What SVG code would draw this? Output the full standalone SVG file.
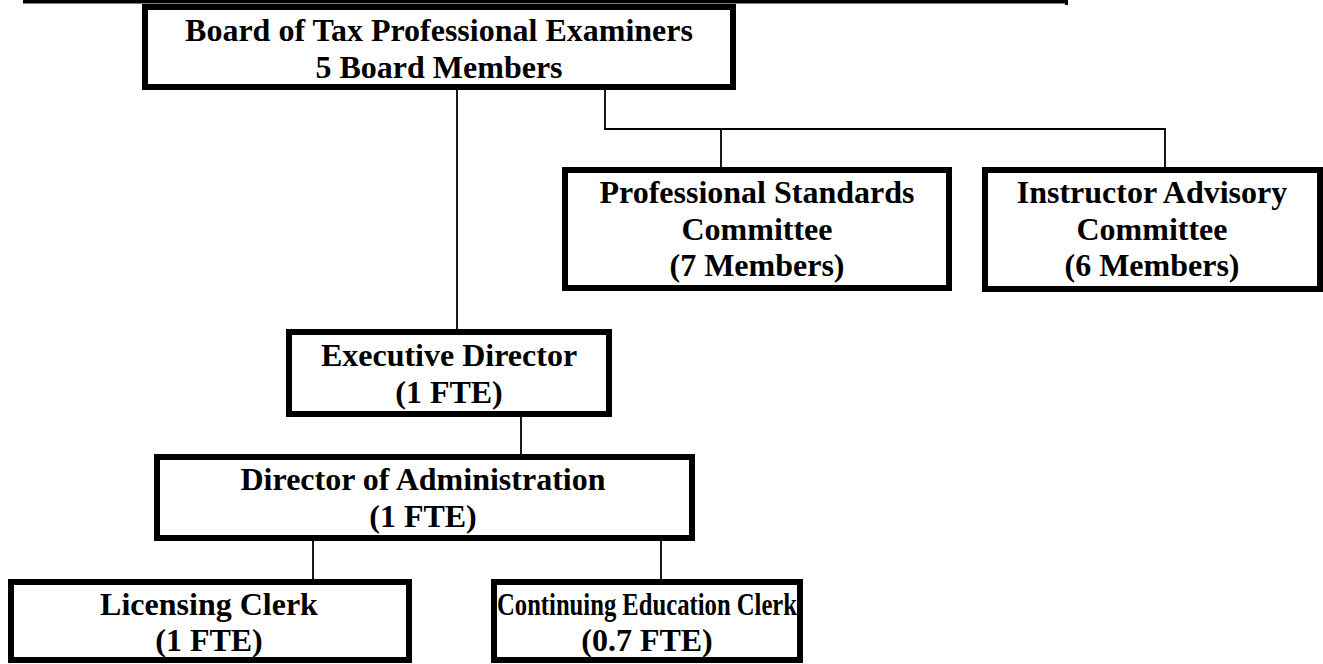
<svg xmlns="http://www.w3.org/2000/svg" width="1323" height="664" viewBox="0 0 1323 664">
<style>
.box{fill:#fff;stroke:#000;stroke-width:6}
.t{font-family:"Liberation Serif","Times New Roman",serif;font-weight:bold;font-size:32px;fill:#000;text-anchor:middle}
.c{fill:none;stroke:#000;stroke-width:1.8}
</style>
<rect x="0" y="0" width="1323" height="664" fill="#fff"/>
<g id="frame">
<rect x="23" y="0" width="1045" height="3.5" fill="#000"/>
<rect x="1065" y="0" width="3" height="5" fill="#000"/>
</g>
<g id="connectors">
<path class="c" d="M457,90 V329"/>
<path class="c" d="M605,90 V129 H1165 V167"/>
<path class="c" d="M721,129 V167"/>
<path class="c" d="M521,417 V454"/>
<path class="c" d="M313,541 V579"/>
<path class="c" d="M661,541 V579"/>
</g>
<g id="board">
<rect class="box" x="145" y="7" width="588" height="80"/>
<text class="t" x="439" y="41">Board of Tax Professional Examiners</text>
<text class="t" x="439" y="78">5 Board Members</text>
</g>
<g id="professional-standards">
<rect class="box" x="565" y="170" width="384" height="118"/>
<text class="t" x="757" y="203">Professional Standards</text>
<text class="t" x="757" y="240">Committee</text>
<text class="t" x="757" y="276">(7 Members)</text>
</g>
<g id="instructor-advisory">
<rect class="box" x="985" y="170" width="335" height="119"/>
<text class="t" x="1152" y="203">Instructor Advisory</text>
<text class="t" x="1152" y="240">Committee</text>
<text class="t" x="1152" y="276">(6 Members)</text>
</g>
<g id="executive-director">
<rect class="box" x="289" y="332" width="320" height="82"/>
<text class="t" x="449" y="366">Executive Director</text>
<text class="t" x="449" y="403">(1 FTE)</text>
</g>
<g id="director-administration">
<rect class="box" x="157" y="457" width="535" height="81"/>
<text class="t" x="423" y="490">Director of Administration</text>
<text class="t" x="423" y="527">(1 FTE)</text>
</g>
<g id="licensing-clerk">
<rect class="box" x="11" y="582" width="398" height="78"/>
<text class="t" x="209" y="615">Licensing Clerk</text>
<text class="t" x="209" y="651">(1 FTE)</text>
</g>
<g id="continuing-education-clerk">
<rect class="box" x="494" y="582" width="306" height="78"/>
<text class="t" x="647" y="615" textLength="300" lengthAdjust="spacingAndGlyphs">Continuing Education Clerk</text>
<text class="t" x="647" y="651">(0.7 FTE)</text>
</g>
</svg>
